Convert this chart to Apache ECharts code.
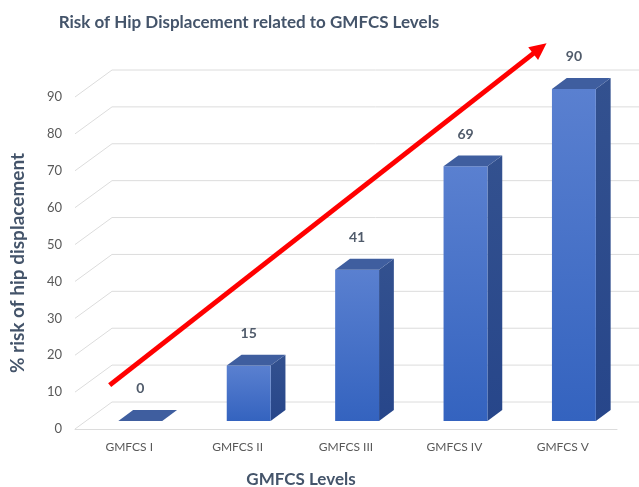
<!DOCTYPE html>
<html>
<head>
<meta charset="utf-8">
<script src="https://cdn.jsdelivr.net/npm/echarts@6/dist/echarts.min.js"></script>
<style>html,body{margin:0;padding:0;background:#fff}#chart{width:639px;height:487px}</style>
</head>
<body>
<div id="chart"></div>
<script>
// data
const levels = ['GMFCS I', 'GMFCS II', 'GMFCS III', 'GMFCS IV', 'GMFCS V'];
const riskPercent = [0, 15, 41, 69, 90];
const yTicks = [0, 10, 20, 30, 40, 50, 60, 70, 80, 90];
// red trend arrow: [category position, value] for tail and head
const trendArrow = [[-0.18, 11.9], [3.85, 104.6]];

// fake 3d look
const DEPTH_X = 37, DEPTH_Y = -27;
const BAR_FRONT = 0.3, BAR_DEPTH = 0.4, BAR_WIDTH = 0.405;
const font = 'Lato, Carlito, sans-serif';
const textColor = '#44546A';

const chart = echarts.init(document.getElementById('chart'), null, { renderer: 'canvas' });

function renderWall(params, api) {
  const p = api.coord([0, api.value(1)]);
  const band = api.size([1, 0])[0];
  const x0 = p[0] - band / 2;
  return {
    type: 'polyline',
    silent: true,
    shape: { points: [[x0, p[1]], [x0 + DEPTH_X, p[1] + DEPTH_Y], [api.getWidth(), p[1] + DEPTH_Y]] },
    style: { stroke: '#DCDCDC', lineWidth: 1, fill: null }
  };
}

function renderBar(params, api) {
  const i = api.value(0), v = api.value(1);
  const base = api.coord([i, 0]);
  const top = api.coord([i, v]);
  const band = api.size([1, 0])[0];
  const w = band * BAR_WIDTH;
  const bx = DEPTH_X * BAR_DEPTH, by = DEPTH_Y * BAR_DEPTH;
  const x0 = base[0] + DEPTH_X * BAR_FRONT - w / 2, x1 = x0 + w;
  const yb = base[1] + DEPTH_Y * BAR_FRONT, yt = top[1] + DEPTH_Y * BAR_FRONT;
  const children = [];
  if (v > 0) {
    children.push({
      type: 'polygon',
      shape: { points: [[x1, yb], [x1 + bx, yb + by], [x1 + bx, yt + by], [x1, yt]] },
      style: { fill: new echarts.graphic.LinearGradient(0, 0, 0, 1, [
        { offset: 0, color: '#33518F' }, { offset: 1, color: '#27468A' }]) }
    });
    children.push({
      type: 'rect',
      shape: { x: x0, y: yt, width: w, height: yb - yt },
      style: { fill: new echarts.graphic.LinearGradient(0, 0, 0, 1, [
        { offset: 0, color: '#5A80D0' }, { offset: 1, color: '#3463BF' }]) }
    });
  }
  children.push({
    type: 'polygon',
    shape: { points: [[x0, yt], [x1, yt], [x1 + bx, yt + by], [x0 + bx, yt + by]] },
    style: { fill: '#3F5E9F' }
  });
  children.push({
    type: 'text',
    style: {
      x: x0 + w / 2, y: yt - 32, text: String(v),
      fill: '#505B6B', font: 'bold 14px ' + font,
      textAlign: 'center', textVerticalAlign: 'middle'
    }
  });
  return { type: 'group', children: children };
}

function renderArrow(params, api) {
  const band = api.size([1, 0])[0];
  const left = api.coord([0, 0])[0] - band / 2;
  const pts = trendArrow.map(function (d) {
    return [left + band * (d[0] + 0.5), api.coord([0, d[1]])[1]];
  });
  const dx = pts[1][0] - pts[0][0], dy = pts[1][1] - pts[0][1];
  const len = Math.sqrt(dx * dx + dy * dy);
  const ux = dx / len, uy = dy / len;
  const headLen = 17, headHalf = 8;
  const bx = pts[1][0] - ux * headLen, by = pts[1][1] - uy * headLen;
  return {
    type: 'group',
    children: [
      { type: 'line', shape: { x1: pts[0][0], y1: pts[0][1], x2: bx + ux * 2, y2: by + uy * 2 },
        style: { stroke: '#FF0000', lineWidth: 5 } },
      { type: 'polygon',
        shape: { points: [pts[1], [bx - uy * headHalf, by + ux * headHalf], [bx + uy * headHalf, by - ux * headHalf]] },
        style: { fill: '#FF0000' } }
    ]
  };
}

chart.setOption({
  animation: false,
  graphic: [
    { type: 'text', x: 249, y: 23, style: {
      text: 'Risk of Hip Displacement related to GMFCS Levels',
      fill: textColor, font: 'bold 17px ' + font, textAlign: 'center', textVerticalAlign: 'middle' } },
    { type: 'text', x: 301, y: 480, style: {
      text: 'GMFCS Levels',
      fill: textColor, font: 'bold 17px ' + font, textAlign: 'center', textVerticalAlign: 'middle' } }
  ],
  grid: { left: 75, right: 22, top: 97, bottom: 58 },
  xAxis: {
    type: 'category',
    data: levels,
    axisLine: { show: true, lineStyle: { color: '#DCDCDC', width: 1 } },
    axisTick: { show: false },
    axisLabel: { color: '#595959', fontFamily: font, fontSize: 12, margin: 12 },
    splitLine: { show: false }
  },
  yAxis: {
    type: 'value',
    min: 0, max: 90, interval: 10,
    name: '% risk of hip displacement',
    nameLocation: 'middle',
    nameGap: 48,
    nameRotate: 90,
    nameTextStyle: { color: textColor, fontFamily: font, fontWeight: 'bold', fontSize: 19 },
    axisLine: { show: false },
    axisTick: { show: false },
    axisLabel: { color: '#595959', fontFamily: font, fontSize: 13, margin: 13 },
    splitLine: { show: false }
  },
  series: [
    { type: 'custom', name: 'walls', z: 1, silent: true,
      data: yTicks.map(function (t) { return [0, t]; }),
      renderItem: renderWall },
    { type: 'custom', name: 'risk', z: 2,
      data: riskPercent.map(function (v, i) { return [i, v]; }),
      renderItem: renderBar },
    { type: 'custom', name: 'trend', z: 3, silent: true,
      data: [[0, 0]],
      renderItem: renderArrow }
  ]
});
</script>
</body>
</html>
